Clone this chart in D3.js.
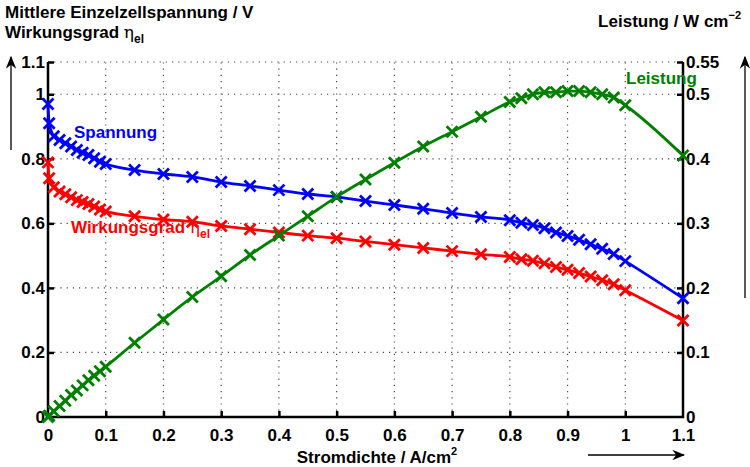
<!DOCTYPE html>
<html>
<head>
<meta charset="utf-8">
<script src="https://cdn.jsdelivr.net/npm/d3@7"></script>
<style>
  body { margin: 0; background: #fff; }
  text { font-family: "Liberation Sans", Arial, sans-serif; font-weight: bold; }
</style>
</head>
<body>
<div id="chart"></div>
<script>
// current density (A/cm2)
const stromdichte = [0, 0.002, 0.01, 0.02, 0.03, 0.04, 0.05, 0.06, 0.07, 0.08, 0.09, 0.1,
  0.15, 0.2, 0.25, 0.3, 0.35, 0.4, 0.45, 0.5, 0.55, 0.6, 0.65, 0.7, 0.75, 0.8,
  0.82, 0.84, 0.86, 0.88, 0.9, 0.92, 0.94, 0.96, 0.98, 1.0, 1.1]

// mean cell voltage (V)
const spannung = [0.97, 0.91, 0.87, 0.858, 0.848, 0.838, 0.827, 0.819, 0.812, 0.802, 0.791, 0.784,
  0.765, 0.753, 0.744, 0.728, 0.716, 0.703, 0.691, 0.682, 0.669, 0.657, 0.645, 0.632, 0.62, 0.61,
  0.602, 0.595, 0.585, 0.572, 0.561, 0.549, 0.535, 0.521, 0.505, 0.483, 0.368]

// efficiency
const wirkungsgrad = [0.789, 0.74, 0.712, 0.699, 0.69, 0.681, 0.672, 0.666, 0.66, 0.652, 0.643, 0.637,
  0.622, 0.612, 0.605, 0.592, 0.582, 0.572, 0.562, 0.554, 0.544, 0.534, 0.524, 0.514, 0.504, 0.496,
  0.489, 0.484, 0.476, 0.465, 0.456, 0.446, 0.435, 0.424, 0.411, 0.393, 0.299]

// power density (W/cm2)
const leistung = [0, 0.002, 0.009, 0.017, 0.025, 0.034, 0.041, 0.049, 0.057, 0.064, 0.071, 0.078,
  0.115, 0.151, 0.186, 0.218, 0.251, 0.281, 0.311, 0.341, 0.368, 0.394, 0.419, 0.442, 0.465, 0.488,
  0.494, 0.5, 0.503, 0.503, 0.505, 0.505, 0.503, 0.5, 0.495, 0.483, 0.405]

const xTicks = [0, 0.1, 0.2, 0.3, 0.4, 0.5, 0.6, 0.7, 0.8, 0.9, 1, 1.1]
const leftTicks = [0, 0.2, 0.4, 0.6, 0.8, 1, 1.1]
const rightTicks = [0, 0.1, 0.2, 0.3, 0.4, 0.5, 0.55]

const W = 750, H = 467
const x0 = 48, x1 = 683, yb = 417, yt = 62
const fs = '17px'

const svg = d3.select('#chart')
  .append('svg')
    .attr('width', W)
    .attr('height', H)

const x = d3.scaleLinear().domain([0, 1.1]).range([x0, x1])
const yL = d3.scaleLinear().domain([0, 1.1]).range([yb, yt])
const yR = d3.scaleLinear().domain([0, 0.55]).range([yb, yt])

// dotted grid
const grid = svg.append('g')
  .style('stroke', '#444')
  .style('stroke-width', 1.2)
  .style('stroke-dasharray', '1.2,5')
grid.selectAll('.vg')
  .data(xTicks.slice(1, -1))
  .enter().append('line')
    .attr('x1', d => x(d)).attr('x2', d => x(d))
    .attr('y1', yb).attr('y2', yt)
grid.selectAll('.hg')
  .data(leftTicks.slice(1))
  .enter().append('line')
    .attr('x1', x0).attr('x2', x1)
    .attr('y1', d => yL(d)).attr('y2', d => yL(d))

// axes
const bottom = svg.append('g')
  .attr('transform', `translate(0,${yb})`)
  .call(d3.axisBottom(x).tickValues(xTicks).tickSize(-6).tickPadding(12)
    .tickFormat(d => d3.format('~g')(d)))
const left = svg.append('g')
  .attr('transform', `translate(${x0},0)`)
  .call(d3.axisLeft(yL).tickValues(leftTicks).tickSize(-6).tickPadding(3)
    .tickFormat(d => d3.format('~g')(d)))
const right = svg.append('g')
  .attr('transform', `translate(${x1},0)`)
  .call(d3.axisRight(yR).tickValues(rightTicks).tickSize(-6).tickPadding(3)
    .tickFormat(d => d3.format('~g')(d)))

;[bottom, left, right].forEach(g => {
  g.select('.domain').remove()
  g.selectAll('.tick line').style('stroke', '#000').style('stroke-width', 2.5)
  g.selectAll('.tick text').style('font-size', fs).style('fill', '#000')
})
bottom.selectAll('.tick').filter(d => d === 0 || d === 1.1).select('line').remove()
left.selectAll('.tick').filter(d => d === 0).select('line').remove()
right.selectAll('.tick').filter(d => d === 0).select('line').remove()

// axis lines (no top line)
svg.append('path')
  .attr('d', `M${x0},${yt}V${yb}H${x1}V${yt}`)
  .style('fill', 'none')
  .style('stroke', '#000')
  .style('stroke-width', 2.5)

// series
const pts = (ys) => stromdichte.map((s, i) => [s, ys[i]])
const series = [
  { values: spannung, y: yL, color: '#0000ff' },
  { values: wirkungsgrad, y: yL, color: '#ff0000' },
  { values: leistung, y: yR, color: '#008000' }
]

series.forEach(s => {
  const line = d3.line()
    .x(d => x(d[0]))
    .y(d => s.y(d[1]))
    .curve(d3.curveMonotoneX)
  const g = svg.append('g')
  g.append('path')
    .datum(pts(s.values))
    .attr('d', line)
    .style('fill', 'none')
    .style('stroke', s.color)
    .style('stroke-width', 2.8)
  g.selectAll('path.mk')
    .data(pts(s.values))
    .enter().append('path')
      .attr('class', 'mk')
      .attr('d', d => {
        const cx = x(d[0]), cy = s.y(d[1]), r = 5.5
        return `M${cx - r},${cy - r}L${cx + r},${cy + r}M${cx - r},${cy + r}L${cx + r},${cy - r}`
      })
      .style('stroke', s.color)
      .style('stroke-width', 2.8)
})

// series labels
svg.append('text').attr('x', 74).attr('y', 138)
  .style('fill', '#0000ff').style('font-size', fs).text('Spannung')
const wl = svg.append('text').attr('x', 71).attr('y', 233)
  .style('fill', '#ff0000').style('font-size', fs)
wl.append('tspan').text('Wirkungsgrad ')
wl.append('tspan').style('font-family', '"DejaVu Serif", serif').style('font-weight', 'normal').text('η')
wl.append('tspan').attr('dy', 5).style('font-size', '12px').text('el')
svg.append('text').attr('x', 626).attr('y', 84)
  .style('fill', '#008000').style('font-size', fs).text('Leistung')

// axis titles
svg.append('text').attr('x', 5).attr('y', 18)
  .style('font-size', fs).text('Mittlere Einzelzellspannung / V')
const t2 = svg.append('text').attr('x', 5).attr('y', 38).style('font-size', fs)
t2.append('tspan').text('Wirkungsgrad ')
t2.append('tspan').style('font-family', '"DejaVu Serif", serif').style('font-weight', 'normal').text('η')
t2.append('tspan').attr('dy', 5).style('font-size', '12px').text('el')

const t3 = svg.append('text').attr('x', 741).attr('y', 27).attr('text-anchor', 'end').style('font-size', fs)
t3.append('tspan').text('Leistung / W cm')
t3.append('tspan').attr('dy', -8).style('font-size', '11px').text('−2')

const t4 = svg.append('text').attr('x', 377).attr('y', 463).attr('text-anchor', 'middle').style('font-size', fs)
t4.append('tspan').text('Stromdichte / A/cm')
t4.append('tspan').attr('dy', -8).style('font-size', '11px').text('2')

// arrows
const arrows = [
  [[11, 150], [11, 57]],
  [[745, 298], [745, 57]],
  [[588, 455], [684, 455]]
]
svg.append('defs').append('marker')
  .attr('id', 'head')
  .attr('viewBox', '0 0 10 10')
  .attr('refX', 9).attr('refY', 5)
  .attr('markerWidth', 13).attr('markerHeight', 13)
  .attr('markerUnits', 'userSpaceOnUse')
  .attr('orient', 'auto')
  .append('path')
    .attr('d', 'M0,1L10,5L0,9L3,5Z')
    .style('fill', '#000')
arrows.forEach(a => {
  svg.append('line')
    .attr('x1', a[0][0]).attr('y1', a[0][1])
    .attr('x2', a[1][0]).attr('y2', a[1][1])
    .style('stroke', '#000')
    .style('stroke-width', 1.3)
    .attr('marker-end', 'url(#head)')
})
</script>
</body>
</html>
